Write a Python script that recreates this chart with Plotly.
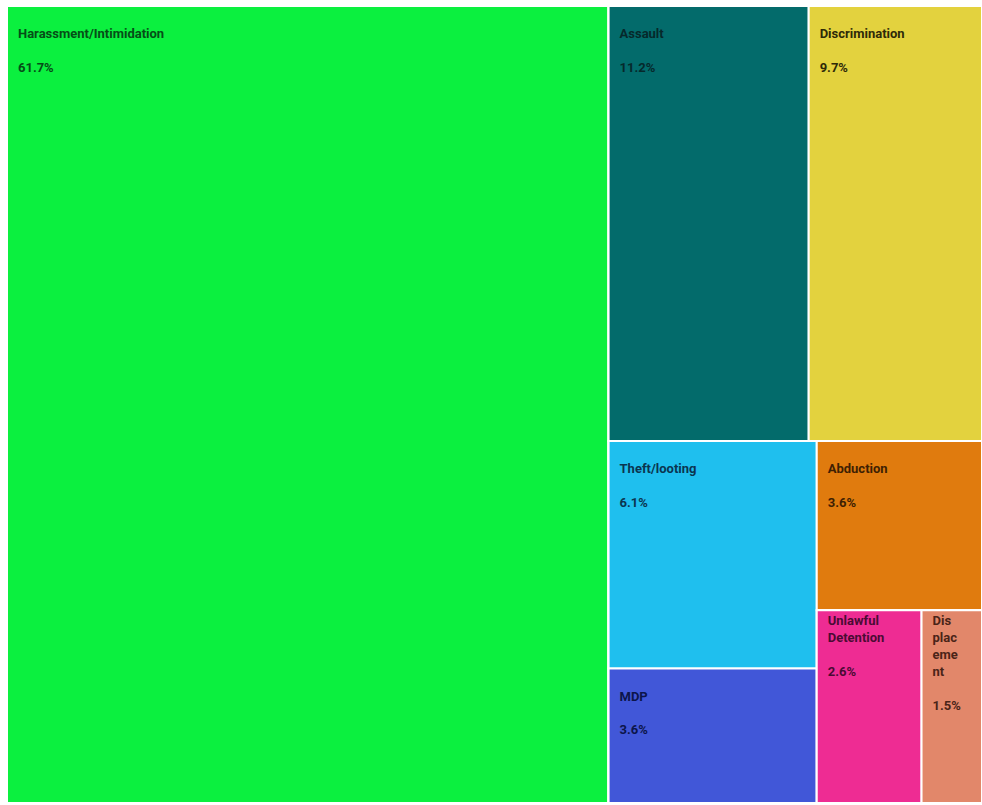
import plotly.graph_objects as go

# Leaf data
labels = ["Harassment/Intimidation", "Assault", "Discrimination", "Theft/looting",
          "MDP", "Abduction", "Unlawful Detention", "Displacement"]
values = [61.7, 11.2, 9.7, 6.1, 3.6, 3.6, 2.6, 1.5]
display_labels = ["Harassment/Intimidation", "Assault", "Discrimination", "Theft/looting",
                  "MDP", "Abduction", "Unlawful<br>Detention", "Dis<br>plac<br>eme<br>nt"]
colors = ["#0bf03f", "#036b6b", "#e3d23e", "#1fbfee", "#4157d8", "#e07b0e", "#ee2c93", "#e2876a"]
text_colors = ["#064d17", "#06292b", "#2f2a08", "#0b3550", "#0c154a", "#3e1f03", "#4a0b33", "#4a2418"]

# Grouping used only to reproduce the reference tile arrangement (invisible groups)
leaf_group = ["", "top", "top", "c1", "c1", "c2", "sub", "sub"]
groups = ["right", "top", "bottom", "c1", "c2", "sub"]
group_parents = ["", "right", "right", "bottom", "bottom", "c2"]

def leaves_under(g):
    out = []
    for lab, lg in zip(labels, leaf_group):
        p = lg
        while p:
            if p == g:
                out.append(lab)
                break
            p = group_parents[groups.index(p)]
    return out

group_values = [sum(values[labels.index(l)] for l in leaves_under(g)) for g in groups]

pad = "\u2002\u200a"
leaf_text = []
for lab, d, v in zip(labels, display_labels, values):
    lines = d.split("<br>")
    lead = "" if lab in ("Unlawful Detention", "Displacement") else "\u00a0<br>"
    body = "<br>".join(pad + "<b>" + ln + "</b>" for ln in lines)
    leaf_text.append(lead + body + "<br><br>" + pad + "<b>%.1f%%</b>" % v)

order = [("leaf", 0), ("group", 0), ("group", 1), ("leaf", 1), ("leaf", 2), ("group", 2),
         ("group", 3), ("leaf", 3), ("leaf", 4), ("group", 4), ("leaf", 5), ("group", 5),
         ("leaf", 6), ("leaf", 7)]

ids, parents, vals, cols, texts, tcols, labs = [], [], [], [], [], [], []
for kind, i in order:
    if kind == "leaf":
        ids.append(labels[i]); labs.append(labels[i]); parents.append(leaf_group[i])
        vals.append(values[i]); cols.append(colors[i]); texts.append(leaf_text[i]); tcols.append(text_colors[i])
    else:
        ids.append(groups[i]); labs.append(groups[i]); parents.append(group_parents[i])
        vals.append(group_values[i]); cols.append("white"); texts.append(""); tcols.append("white")

fig = go.Figure(go.Treemap(
    ids=ids,
    labels=labs,
    parents=parents,
    values=vals,
    branchvalues="total",
    text=texts,
    texttemplate="%{text}",
    textposition="top left",
    textfont=dict(family="Roboto", size=13, color=tcols),
    marker=dict(colors=cols, line=dict(color="white", width=2),
                pad=dict(t=0, l=0, r=0, b=0), depthfade=False),
    tiling=dict(packing="slice-dice", pad=0),
    sort=False,
    pathbar=dict(visible=False),
    hoverinfo="label+value",
))

fig.update_layout(
    width=982, height=805,
    margin=dict(l=7, r=0, t=6, b=2),
    paper_bgcolor="white",
    uniformtext=dict(minsize=13, mode="show"),
)

fig.write_html(
    "out.html",
    config={"displayModeBar": False},
    post_script="document.body.style.margin='0';document.documentElement.style.overflow='hidden';",
)
